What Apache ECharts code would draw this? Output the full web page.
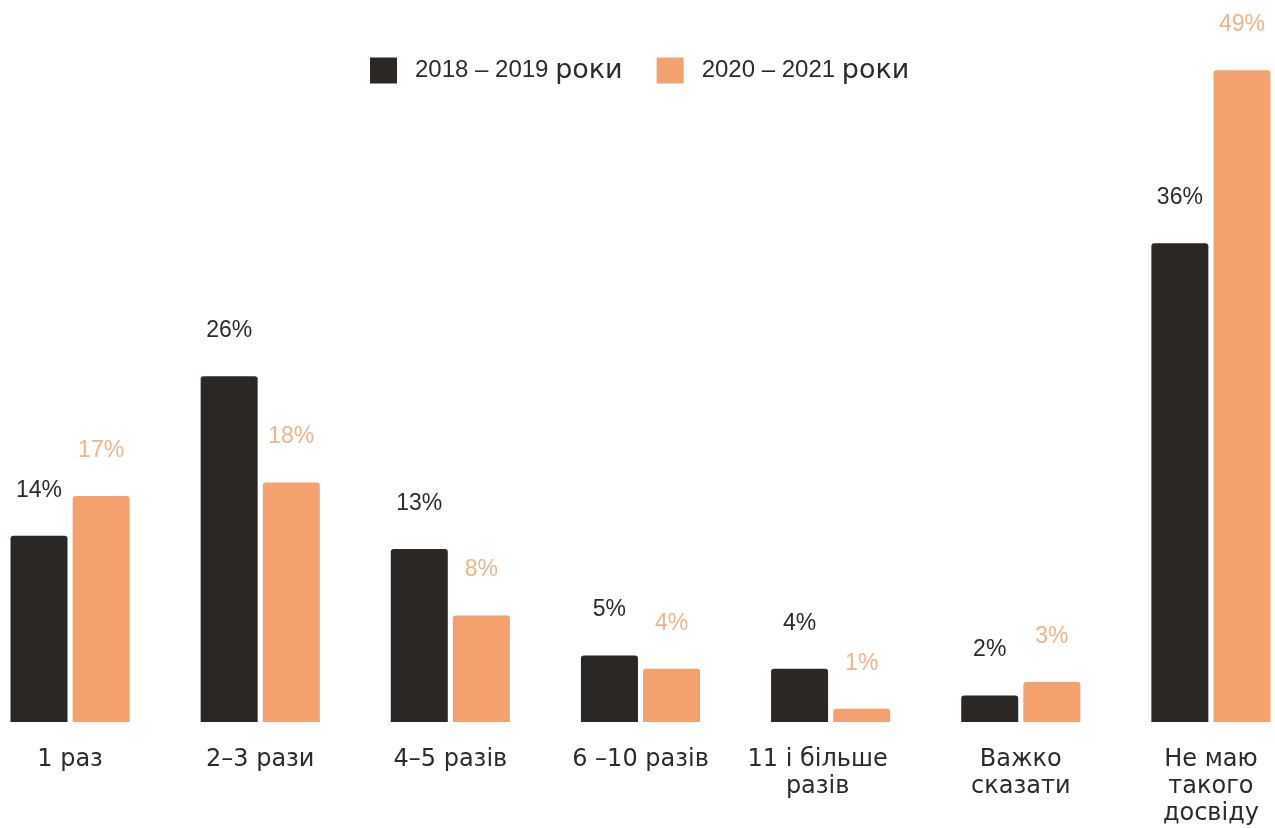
<!DOCTYPE html>
<html>
<head>
<meta charset="utf-8">
<script src="https://cdn.jsdelivr.net/npm/echarts@6/dist/echarts.min.js"></script>
<style>
  html, body { margin: 0; padding: 0; background: #fff; width: 1275px; height: 828px; overflow: hidden; position: relative; }
  /* the plot is a little wider than the page so the outer bars sit at the edges */
  #chart { position: absolute; left: -25px; top: 0; width: 1331px; height: 828px; }
</style>
</head>
<body>
<div id="chart"></div>
<script>
const categories = ['1 раз', '2–3 рази', '4–5 разів', '6 –10 разів', '11 і більше\nразів', 'Важко\nсказати', 'Не маю\nтакого\nдосвіду'];
const seriesYears = ['2018 – 2019', '2020 – 2021'];
const seriesWord = 'роки';
const values2018 = [14, 26, 13, 5, 4, 2, 36];
const values2020 = [17, 18, 8, 4, 1, 3, 49];

const seriesNames = seriesYears.map(function (y) { return y + ' ' + seriesWord; });

const DARK = '#2b2725';
const ORANGE = '#f4a26d';
const SANS = '"Liberation Sans", Arial, sans-serif';
const WIDE = '"DejaVu Sans", Verdana, sans-serif';

const chart = echarts.init(document.getElementById('chart'), null, { renderer: 'canvas' });

function barSeries(name, data, color, labelColor) {
  return {
    name: name,
    type: 'bar',
    data: data,
    barWidth: 57,
    barGap: '9%',
    itemStyle: { color: color, borderRadius: [3, 3, 0, 0] },
    label: {
      show: true,
      position: 'top',
      distance: 34,
      formatter: '{c}%',
      color: labelColor,
      fontFamily: SANS,
      fontSize: 23
    }
  };
}

chart.setOption({
  backgroundColor: '#ffffff',
  animation: false,
  legend: {
    top: 52,
    left: 390,
    itemWidth: 27,
    itemHeight: 26,
    itemGap: 34,
    icon: 'rect',
    data: seriesNames,
    formatter: function (name) {
      const i = seriesNames.indexOf(name);
      return '{y|' + seriesYears[i] + ' }{w|' + seriesWord + '}';
    },
    textStyle: {
      color: '#2b2b2b',
      padding: [0, 0, 0, 13],
      rich: {
        y: { fontFamily: SANS, fontSize: 24, color: '#2b2b2b' },
        w: { fontFamily: WIDE, fontSize: 27, color: '#2b2b2b' }
      }
    }
  },
  grid: { left: 0, right: 0, top: 57, bottom: 106, containLabel: false },
  xAxis: {
    type: 'category',
    data: categories.map(function (c, i) {
      return i === 4 ? { value: c, textStyle: { padding: [0, 26, 0, 0] } } : c;
    }),
    axisLine: { show: false },
    axisTick: { show: false },
    axisLabel: {
      interval: 0,
      margin: 24,
      fontFamily: WIDE,
      fontSize: 24,
      lineHeight: 27,
      color: '#2b2b2b'
    }
  },
  yAxis: {
    type: 'value',
    min: 0,
    max: 50,
    show: false,
    splitLine: { show: false }
  },
  series: [
    barSeries(seriesNames[0], values2018, DARK, '#2b2b2b'),
    barSeries(seriesNames[1], values2020, ORANGE, '#f0b48c')
  ]
});
</script>
</body>
</html>
